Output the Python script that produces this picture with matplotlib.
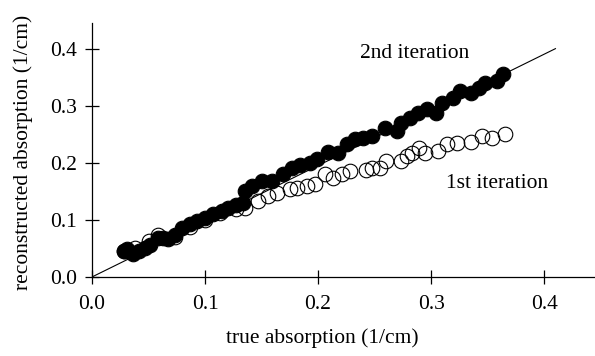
import matplotlib.pyplot as plt

plt.rcParams["font.family"] = ["Liberation Serif", "DejaVu Serif"]
plt.rcParams["font.size"] = 15.5

# 1st iteration (open circles)
x_first = [0.028, 0.038, 0.050, 0.058, 0.073, 0.087, 0.100, 0.113, 0.127,
           0.135, 0.147, 0.156, 0.164, 0.175, 0.181, 0.190, 0.197, 0.206,
           0.213, 0.221, 0.228, 0.242, 0.248, 0.255, 0.260, 0.273, 0.279,
           0.283, 0.289, 0.295, 0.306, 0.314, 0.323, 0.335, 0.345, 0.354,
           0.365]
y_first = [0.046, 0.051, 0.063, 0.074, 0.070, 0.088, 0.100, 0.112, 0.119,
           0.121, 0.133, 0.142, 0.147, 0.154, 0.156, 0.160, 0.163, 0.181,
           0.174, 0.181, 0.186, 0.188, 0.191, 0.191, 0.203, 0.203, 0.212,
           0.218, 0.226, 0.218, 0.221, 0.233, 0.235, 0.237, 0.247, 0.244,
           0.251]

# 2nd iteration (filled circles)
x_second = [0.028, 0.031, 0.036, 0.042, 0.047, 0.051, 0.058, 0.063, 0.067,
            0.073, 0.080, 0.087, 0.093, 0.100, 0.107, 0.115, 0.120, 0.127,
            0.134, 0.135, 0.142, 0.150, 0.159, 0.169, 0.177, 0.184, 0.193,
            0.199, 0.209, 0.218, 0.226, 0.233, 0.240, 0.248, 0.259, 0.270,
            0.273, 0.281, 0.288, 0.296, 0.304, 0.310, 0.319, 0.326, 0.335,
            0.342, 0.348, 0.358, 0.364]
y_second = [0.046, 0.049, 0.040, 0.046, 0.051, 0.056, 0.068, 0.068, 0.067,
            0.074, 0.086, 0.093, 0.098, 0.103, 0.110, 0.116, 0.121, 0.126,
            0.130, 0.151, 0.160, 0.168, 0.168, 0.181, 0.191, 0.196, 0.200,
            0.207, 0.219, 0.217, 0.233, 0.242, 0.244, 0.247, 0.261, 0.256,
            0.270, 0.279, 0.288, 0.295, 0.288, 0.305, 0.314, 0.326, 0.323,
            0.331, 0.340, 0.344, 0.356]

# reference diagonal
diag_x = [0.0, 0.41]
diag_y = [0.0, 0.40]

ticks = [0.0, 0.1, 0.2, 0.3, 0.4]
tick_labels = ["0.0", "0.1", "0.2", "0.3", "0.4"]

fig = plt.figure(figsize=(5.95, 3.56), dpi=100)
ax = fig.add_axes([0.1546, 0.222, 0.8454, 0.7135])

ax.plot(diag_x, diag_y, color="black", lw=0.8, zorder=1)
ax.plot(x_first, y_first, "o", ms=10.5, mfc="none", mec="black", mew=0.8,
        zorder=2)
ax.plot(x_second, y_second, "o", ms=10.5, mfc="black", mec="black", mew=0.8,
        zorder=3)

ax.text(0.285, 0.391, "2nd iteration", ha="center", va="center")
ax.text(0.358, 0.163, "1st iteration", ha="center", va="center")

ax.set_xlim(0, 0.445)
ax.set_ylim(0, 0.445)
ax.set_xticks(ticks)
ax.set_xticklabels(tick_labels)
ax.set_yticks(ticks)
ax.set_yticklabels(tick_labels)

for side in ["top", "right"]:
    ax.spines[side].set_visible(False)
for side in ["left", "bottom"]:
    ax.spines[side].set_linewidth(0.9)
ax.tick_params(direction="inout", length=10, width=0.9)
ax.tick_params(axis="x", pad=8)
ax.tick_params(axis="y", pad=6)

ax.set_xlabel("true absorption (1/cm)")
ax.set_ylabel("reconstructed absorption (1/cm)")
ax.xaxis.set_label_coords(0.457, -0.2)
ax.yaxis.set_label_coords(-0.117, 0.49)

fig.savefig("out.png", dpi=100)
